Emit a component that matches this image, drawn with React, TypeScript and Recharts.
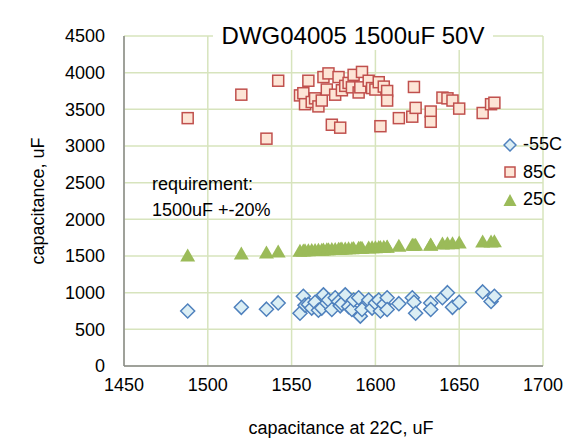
import { ScatterChart, Scatter, XAxis, YAxis, CartesianGrid, Legend } from 'recharts'

const FONT = '"Liberation Sans", Arial, sans-serif'
const GRID = '#d7e4bd'
const AXIS = '#898989'
const BLUE = '#4f81bd'
const BLUE_FILL = '#dbeef4'
const RED = '#c0504d'
const RED_FILL = '#fde5d6'
const GREEN = '#9bbb59'

// capacitance at 22C for each part, uF
const cap22 = [
  1488, 1520, 1535, 1542, 1555, 1557, 1558, 1560, 1562, 1564, 1566, 1568,
  1569, 1571, 1572, 1574, 1576, 1578, 1579, 1580, 1582, 1584, 1586, 1587,
  1590, 1591, 1592, 1596, 1598, 1600, 1602, 1603, 1605, 1607, 1607, 1614,
  1622, 1623, 1624, 1633, 1633, 1640, 1643, 1646, 1650, 1664, 1669, 1671,
]
const capM55 = [
  750, 800, 775, 860, 720, 950, 830, 840, 790, 870, 760, 790,
  970, 860, 900, 770, 930, 880, 820, 850, 970, 810, 770, 900,
  930, 680, 770, 900, 790, 860, 900, 750, 840, 930, 770, 850,
  930, 870, 720, 860, 770, 930, 1000, 800, 870, 1010, 880, 950,
]
const cap85 = [
  3380, 3700, 3100, 3890, 3690, 3720, 3570, 3890, 3600, 3650, 3540, 3620,
  3940, 3770, 3990, 3290, 3700, 3940, 3250, 3760, 3820, 3860, 3800, 3970,
  3730, 3800, 4010, 3890, 3790, 3770, 3870, 3270, 3810, 3750, 3620, 3380,
  3400, 3805, 3520, 3470, 3330, 3660, 3650, 3620, 3510, 3450, 3570, 3590,
]
const cap25 = [
  1500, 1527, 1541, 1555, 1565, 1568, 1570, 1572, 1574, 1576, 1578, 1580,
  1582, 1584, 1585, 1587, 1589, 1591, 1592, 1594, 1596, 1598, 1600, 1601,
  1604, 1605, 1606, 1610, 1612, 1614, 1616, 1617, 1619, 1621, 1622, 1632,
  1645, 1646, 1647, 1648, 1650, 1664, 1666, 1668, 1677, 1690, 1692, 1694,
]

const xTicks = [1450, 1500, 1550, 1600, 1650, 1700]
const yTicks = [0, 500, 1000, 1500, 2000, 2500, 3000, 3500, 4000, 4500]
const seriesOrder = ['-55C', '85C', '25C']

const toPoints = (ys: number[]) => cap22.map((x, i) => ({ x, y: ys[i] }))

const Diamond = ({ cx, cy }: any) => (
  <path d={`M${cx},${cy - 7}L${cx + 7},${cy}L${cx},${cy + 7}L${cx - 7},${cy}Z`}
    fill={BLUE_FILL} stroke={BLUE} strokeWidth={1.5} />
)
const Square = ({ cx, cy }: any) => (
  <rect x={cx - 5.5} y={cy - 5.5} width={11} height={11} fill={RED_FILL} stroke={RED} strokeWidth={1.5} />
)
const Triangle = ({ cx, cy }: any) => (
  <path d={`M${cx},${cy - 7.5}L${cx + 7.5},${cy + 5.5}L${cx - 7.5},${cy + 5.5}Z`} fill={GREEN} />
)

const icons: Record<string, any> = {
  '-55C': <path d="M7,1L13,7L7,13L1,7Z" fill={BLUE_FILL} stroke={BLUE} strokeWidth={1.5} />,
  '85C': <rect x={2} y={2} width={10} height={10} fill={RED_FILL} stroke={RED} strokeWidth={1.5} />,
  '25C': <path d="M7,1L13.5,13L0.5,13Z" fill={GREEN} />,
}

const LegendBox = () => (
  <div style={{ fontFamily: FONT, fontSize: 18, color: '#000' }}>
    {seriesOrder.map((name) => (
      <div key={name} style={{ display: 'flex', alignItems: 'center', height: 27.5 }}>
        <svg width={14} height={14} style={{ marginRight: 6 }}>{icons[name]}</svg>
        <span>{name}</span>
      </div>
    ))}
  </div>
)

const YTitle = ({ viewBox }: any) => {
  const x = 38
  const y = viewBox.y + viewBox.height / 2
  return (
    <text x={x} y={y} transform={`rotate(-90 ${x} ${y})`} textAnchor="middle" dominantBaseline="central"
      fontSize={18} fontFamily={FONT} fill="#000">capacitance, uF</text>
  )
}

const XTitle = () => (
  <text x={341} y={428} textAnchor="middle" dominantBaseline="central"
    fontSize={18} fontFamily={FONT} fill="#000">capacitance at 22C, uF</text>
)

export default function App() {
  const tick = { fontSize: 18, fill: '#000', fontFamily: FONT }
  return (
    <div style={{ position: 'absolute', left: 0, top: 0, width: 587, height: 446, background: '#fff', fontFamily: FONT }}>
      <ScatterChart width={587} height={446} margin={{ top: 36, right: 44, bottom: 0, left: 0 }}>
        <CartesianGrid stroke={GRID} strokeWidth={1.5} />
        <XAxis dataKey="x" type="number" domain={[1450, 1700]} ticks={xTicks} height={80}
          axisLine={{ stroke: AXIS, strokeWidth: 1.5 }} tickLine={false} tickSize={5} tickMargin={7}
          tick={tick} label={<XTitle />} />
        <XAxis xAxisId="top" type="number" orientation="top" domain={[1450, 1700]} height={0}
          axisLine={{ stroke: AXIS, strokeWidth: 1.5 }} tick={false} tickLine={false} />
        <YAxis dataKey="y" type="number" domain={[0, 4500]} ticks={yTicks} width={124}
          axisLine={{ stroke: AXIS, strokeWidth: 1.5 }} tickLine={false} tickSize={5} tickMargin={14}
          tick={tick} label={<YTitle />} />
        <YAxis yAxisId="right" type="number" orientation="right" domain={[0, 4500]} width={0}
          axisLine={{ stroke: AXIS, strokeWidth: 1.5 }} tick={false} tickLine={false} />
        <Legend layout="horizontal" align="center" verticalAlign="middle" content={<LegendBox />}
          wrapperStyle={{ left: 503, top: 131, width: 84 }} />
        <Scatter name="-55C" data={toPoints(capM55)} fill={BLUE} shape={<Diamond />} isAnimationActive={false} />
        <Scatter name="85C" data={toPoints(cap85)} fill={RED} shape={<Square />} isAnimationActive={false} />
        <Scatter name="25C" data={toPoints(cap25)} fill={GREEN} shape={<Triangle />} isAnimationActive={false} />
      </ScatterChart>
      <div style={{ position: 'absolute', left: 213, top: 22, width: 280, height: 28, lineHeight: '28px',
        background: '#fff', textAlign: 'center', fontSize: 24, color: '#000' }}>
        DWG04005 1500uF 50V
      </div>
      <div style={{ position: 'absolute', left: 152, top: 171, fontSize: 18, lineHeight: '26px', color: '#000' }}>
        requirement:<br />1500uF +-20%
      </div>
    </div>
  )
}
